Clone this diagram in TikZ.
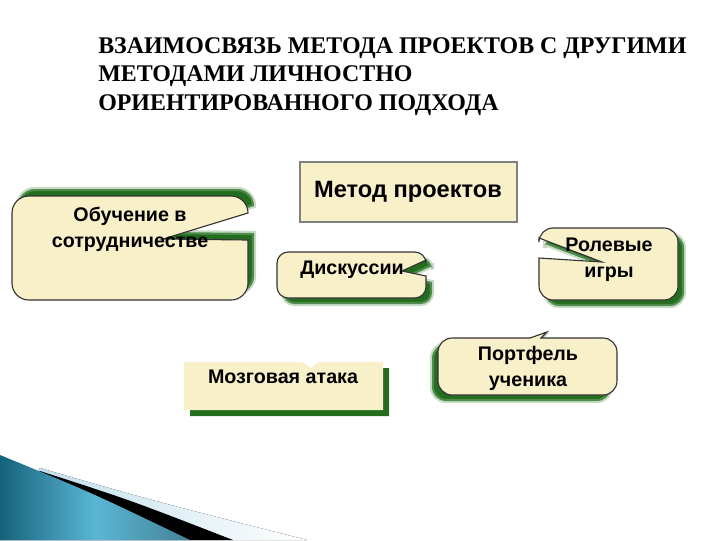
\documentclass[tikz,border=0pt]{standalone}
\usepackage{fontspec}
\setmainfont{Liberation Serif}
\setsansfont{Liberation Sans}
\definecolor{boxfill}{HTML}{F7F0C9}
\definecolor{boxline}{HTML}{333333}
\definecolor{greendark}{HTML}{236E1E}
\definecolor{tealdark}{HTML}{16627C}
\definecolor{teallight}{HTML}{5AB6D5}
\definecolor{palesky}{HTML}{B8DBE8}
\tikzset{
  callbox/.style={fill=boxfill,draw=boxline,line width=0.8pt},
  greenshadow/.style={fill=greendark,draw=greendark!55,line width=3pt,draw opacity=0.45},
  lbl/.style={inner sep=0,align=center,font=\sffamily\bfseries\fontsize{14}{18.5}\selectfont},
  ttl/.style={inner sep=0,anchor=base west,font=\rmfamily\bfseries\fontsize{17}{20}\selectfont}
}
\begin{document}
\begin{tikzpicture}[x=0.025cm,y=-0.025cm]
  \useasboundingbox (0,0) rectangle (720,540);
  \foreach \t [count=\i] in {ВЗАИМОСВЯЗЬ МЕТОДА ПРОЕКТОВ С ДРУГИМИ,МЕТОДАМИ ЛИЧНОСТНО,ОРИЕНТИРОВАННОГО ПОДХОДА}{
  \node[ttl](title\i)at(98,{53+28.5*(\i-1)}){\t};}
  \foreach \dx/\dy/\s in {6/-7/greenshadow,0/0/callbox}{
  \draw[\s,shift={(\dx,\dy)}][rounded corners=12](12,250)--(12,196)--(248,196)[sharp corners]--(248,213)--(163,239)--(248,240)[rounded corners=12]--(248,300)--(12,300)--cycle;}
  \foreach \dx/\dy/\s in {6/6/greenshadow,0/0/callbox}{
  \draw[\s,shift={(\dx,\dy)}][rounded corners=8](277,275)--(277,252)--(426,252)[sharp corners]--(426,260)--(402,271)--(426,276)[rounded corners=8]--(426,298)--(277,298)--cycle;}
  \foreach \dx/\dy/\s in {6/6/greenshadow,0/0/callbox}{
  \draw[\s,shift={(\dx,\dy)}][rounded corners=10](610,228)--(678,228)--(678,300)--(539,300)[sharp corners]--(539,258)--(602,262)--(539,238)[rounded corners=10]--(539,228)--cycle;}
  \foreach \dx/\dy/\s in {6/6/greenshadow,0/0/callbox}{
  \draw[\s,shift={(\dx,\dy)},draw=none](184,362)--(302,362)--(311,368)--(318,362)--(383,362)--(383,410)--(184,410)--cycle;}
  \foreach \dx/\dy/\s in {-6/6/greenshadow,0/0/callbox}{
  \draw[\s,shift={(\dx,\dy)}][rounded corners=10](438,365)--(438,338)[sharp corners]--(530,338)--(547,332)--(541,338)[rounded corners=10]--(617,338)--(617,395)--(438,395)--cycle;}
  \draw[fill=boxfill,draw=black!50,line width=1.2pt](300,162)rectangle(517,222);
  \node[lbl,font=\sffamily\bfseries\fontsize{16.8}{18}\selectfont](metod)at(408,192){Метод проектов};
  \node[lbl](obuch)at(130,229){Обучение в\\сотрудничестве};
  \node[lbl](disk)at(352,270){Дискуссии};
  \node[lbl](rol)at(609,260){Ролевые\\игры};
  \node[lbl](mozg)at(283,377){Мозговая атака};
  \node[lbl](port)at(528,368){Портфель\\ученика};
  \fill[left color=palesky,right color=white](40,468)..controls(150,500)..(307,540)--(0,540)--cycle;
  \fill[black](40,471)..controls(130,500)..(233,540)--(0,540)--cycle;
  \shade[left color=tealdark,right color=tealdark!80,middle color=teallight](0,455)..controls(90,492)..(190,540)--(0,540)--cycle;
\end{tikzpicture}
\end{document}
